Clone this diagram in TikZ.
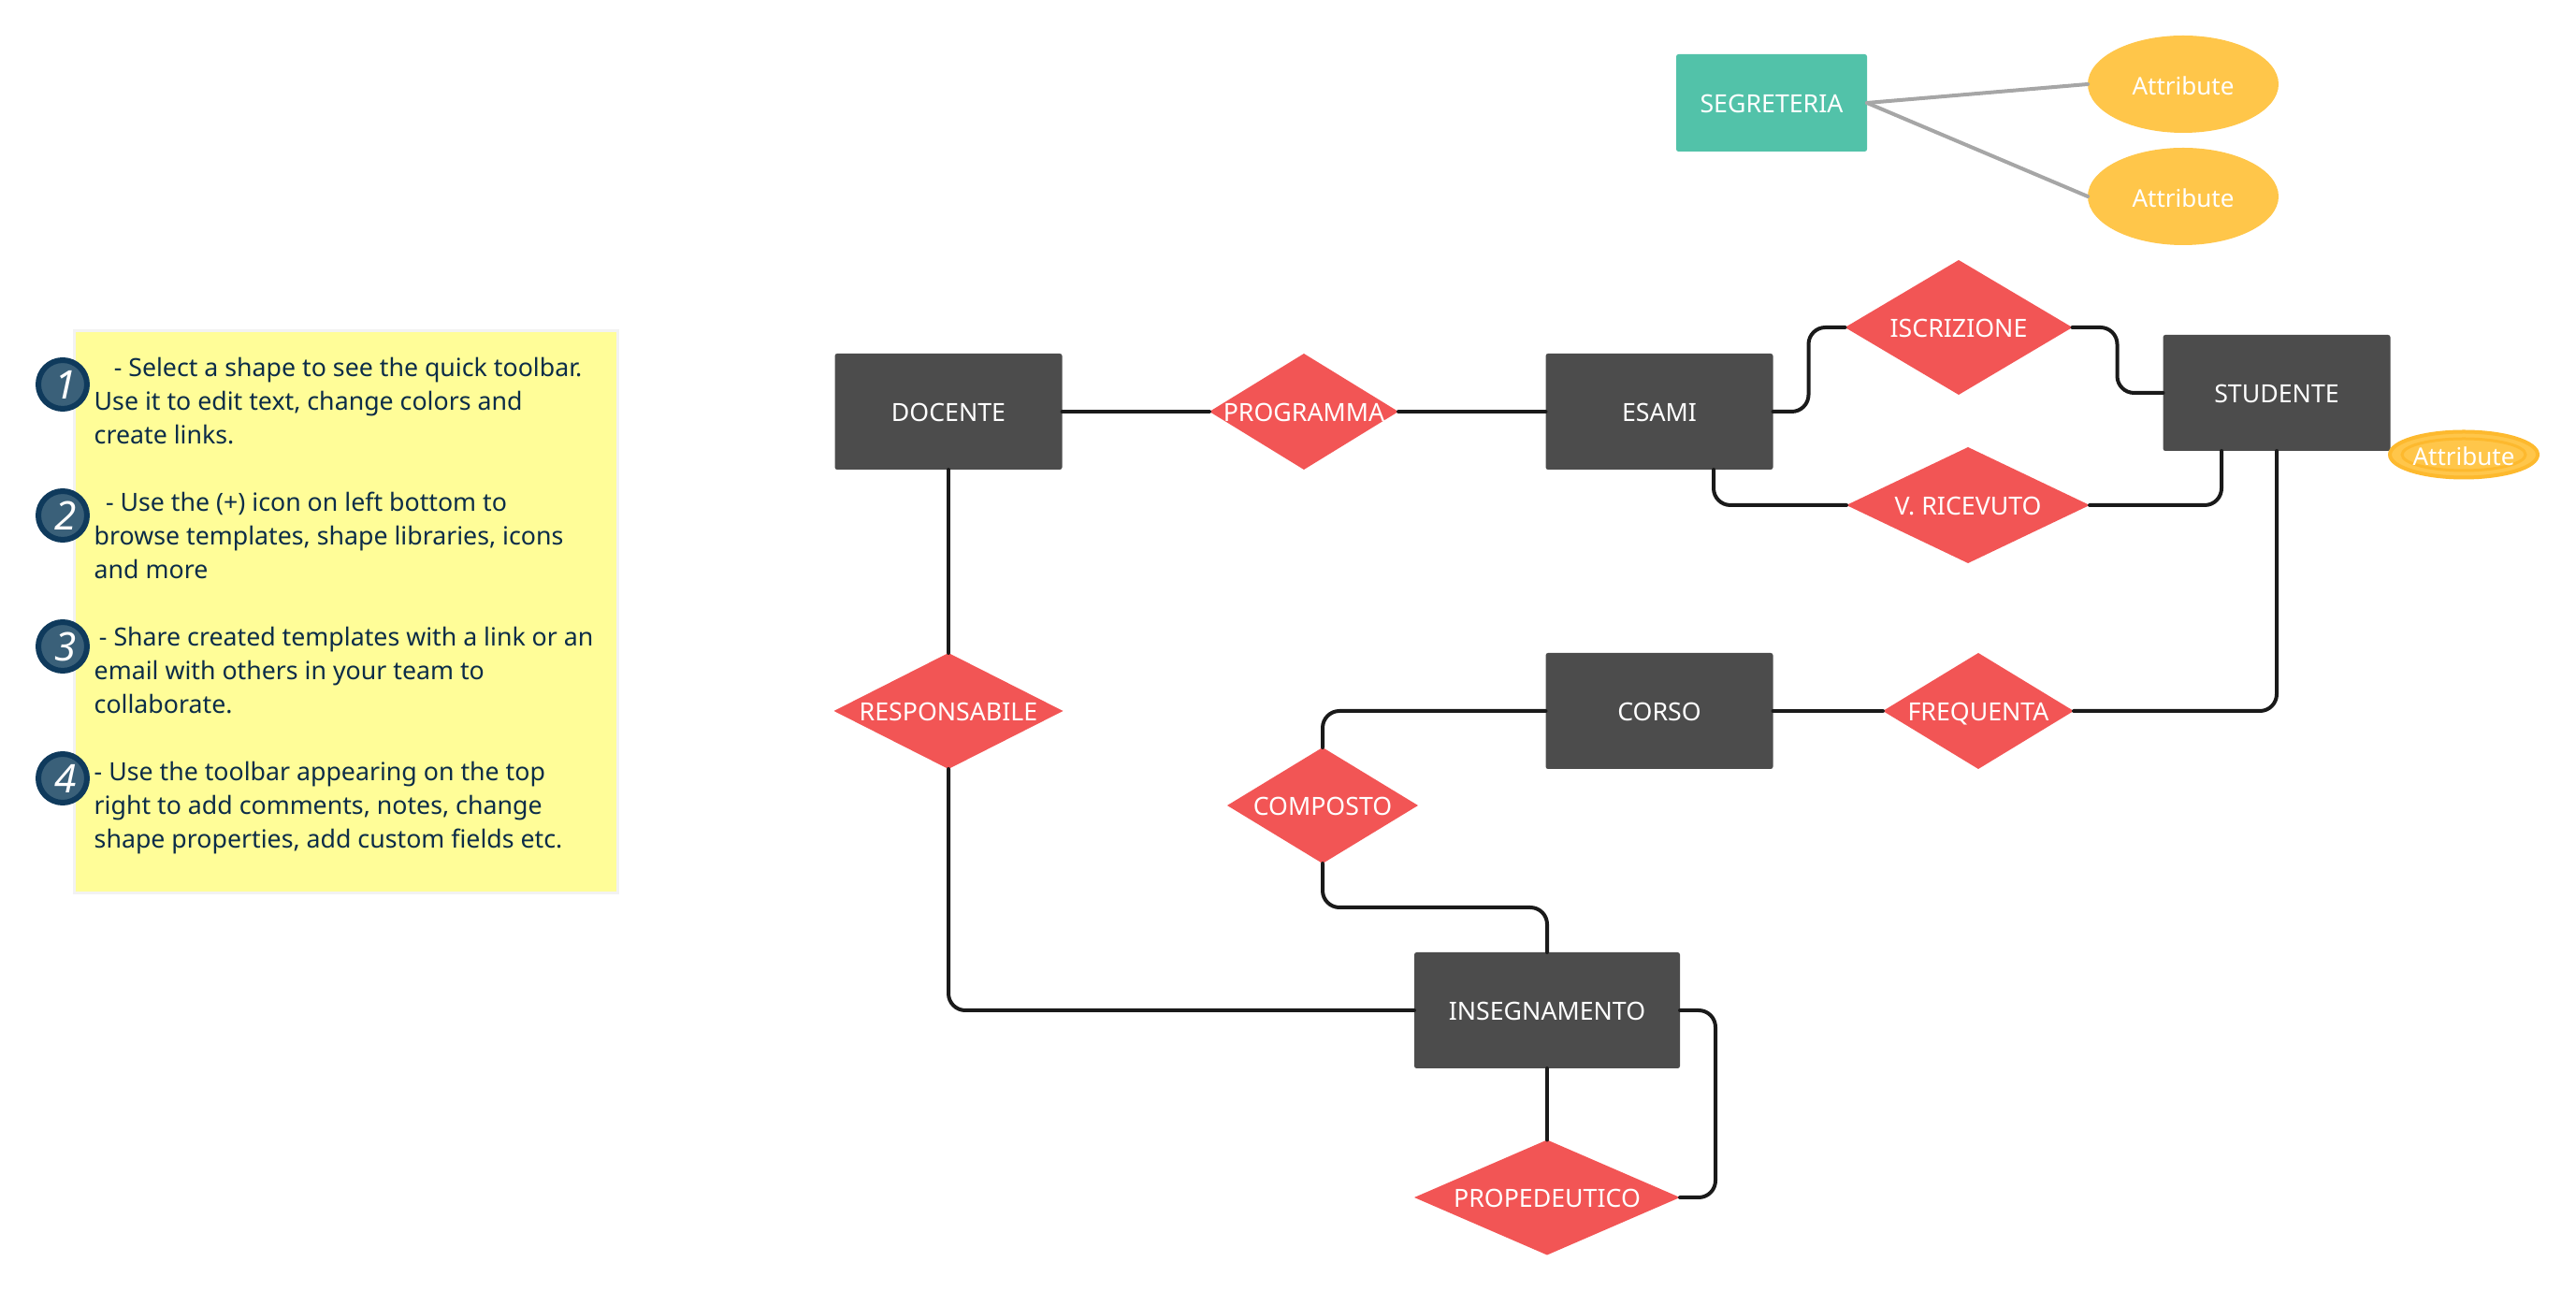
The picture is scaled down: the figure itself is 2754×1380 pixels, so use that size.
\documentclass[tikz,border=0pt]{standalone}
\usepackage{fontspec}
\setmainfont{Noto Sans}
\usetikzlibrary{shapes.geometric,shadows}
\definecolor{boxgray}{HTML}{4C4C4C}
\definecolor{relred}{HTML}{F25555}
\definecolor{attryellow}{HTML}{FFC64A}
\definecolor{attredge}{HTML}{FDB92E}
\definecolor{segteal}{HTML}{52C2A9}
\definecolor{notecol}{HTML}{FFFD98}
\definecolor{inktext}{HTML}{0B2C48}
\definecolor{stepfill}{HTML}{3A6079}
\definecolor{stepedge}{HTML}{0F3A5C}
\definecolor{linkblack}{HTML}{1A1A1A}
\newcommand{\lbl}[1]{\makebox[0pt]{#1}}
\tikzset{
  ent/.style={rectangle,rounded corners=2.5pt*0.28,fill=boxgray,text=white,inner sep=0pt,outer sep=0pt,
    minimum width=243*0.01cm,minimum height=124*0.01cm,text height=6pt,text depth=0pt,
    font=\fontsize{7.6}{9}\selectfont},
  rel/.style={diamond,fill=relred,text=white,inner sep=0pt,outer sep=0pt,text height=6pt,text depth=0pt,
    font=\fontsize{7.6}{9}\selectfont},
  attr/.style={ellipse,fill=attryellow,text=white,inner sep=0pt,outer sep=0pt,text height=6.6pt,text depth=0pt,
    font=\fontsize{7.4}{9}\selectfont},
  link/.style={draw=linkblack,line width=4*0.01cm,line cap=round,rounded corners=18*0.01cm},
  graylink/.style={draw=black!35,line width=4*0.01cm,line cap=round},
  para/.style={anchor=north west,inner sep=0pt,text=inktext,align=left,
    font=\fontsize{7.6}{10.24}\selectfont},
  stepdot/.style={circle,draw=stepedge,fill=stepfill,line width=6*0.01cm,minimum size=52*0.01cm,
    inner sep=0pt,text=white,font=\fontsize{12}{13}\selectfont\itshape}
}
\begin{document}
\begin{tikzpicture}[x=0.01cm,y=-0.01cm]
	\useasboundingbox (0,0) rectangle (2754,1380);
	% note on the left
	\node (note) at (370,654) [rectangle,fill=notecol,minimum width=578*0.01cm,minimum height=598*0.01cm,
	  drop shadow={shadow xshift=0pt,shadow yshift=0pt,shadow scale=1.01,opacity=.05,fill=black}] {};
	\foreach \n/\y in {1/411,2/551,3/691,4/832} {
	  \node (step\n) at (67,\y) [stepdot] {\hspace*{1.5pt}\n};
	}
	\node (para1) at (100,381) [para] {\hspace*{6pt}- Select a shape to see the quick toolbar.\\Use it to edit text, change colors and\\create links.};
	\node (para2) at (100,525) [para] {\hspace*{3.5pt}- Use the (+) icon on left bottom to\\browse templates, shape libraries, icons\\and more};
	\node (para3) at (100,669) [para] {\hspace*{1.5pt}- Share created templates with a link or an\\email with others in your team to\\collaborate.};
	\node (para4) at (100,813) [para] {- Use the toolbar appearing on the top\\right to add comments, notes, change\\shape properties, add custom fields etc.};
	% entities
	\node (docente) at (1014,440) [ent] {DOCENTE};
	\node (esami) at (1774,440) [ent] {ESAMI};
	\node (studente) at (2434,420) [ent] {STUDENTE};
	\node (corso) at (1774,760) [ent] {CORSO};
	\node (insegn) at (1654,1080) [ent,minimum width=284*0.01cm] {INSEGNAMENTO};
	\node (segret) at (1894,110) [ent,fill=segteal,minimum width=204*0.01cm,minimum height=104*0.01cm] {SEGRETERIA};
	% relations
	\node (programma) at (1394,440) [rel,minimum width=202*0.01cm,minimum height=124*0.01cm] {\lbl{PROGRAMMA}};
	\node (iscrizione) at (2094,350) [rel,minimum width=243*0.01cm,minimum height=144*0.01cm] {\lbl{ISCRIZIONE}};
	\node (ricevuto) at (2104,540) [rel,minimum width=260*0.01cm,minimum height=124*0.01cm] {\lbl{V. RICEVUTO}};
	\node (responsabile) at (1014,760) [rel,minimum width=245*0.01cm,minimum height=124*0.01cm] {\lbl{RESPONSABILE}};
	\node (frequenta) at (2115,760) [rel,minimum width=204*0.01cm,minimum height=124*0.01cm] {\lbl{FREQUENTA}};
	\node (composto) at (1414,861) [rel,minimum width=204*0.01cm,minimum height=124*0.01cm] {\lbl{COMPOSTO}};
	\node (propedeutico) at (1654,1280) [rel,minimum width=284*0.01cm,minimum height=123*0.01cm] {\lbl{PROPEDEUTICO}};
	% attributes
	\node (attr1) at (2334,90) [attr,minimum width=204*0.01cm,minimum height=104*0.01cm] {Attribute};
	\node (attr2) at (2334,210) [attr,minimum width=204*0.01cm,minimum height=104*0.01cm] {Attribute};
	\node (attr3) at (2634,486) [attr,draw=attredge,line width=4*0.01cm,minimum width=158*0.01cm,minimum height=49*0.01cm] {};
	\draw [attredge,line width=3*0.01cm] (attr3.center) ellipse [x radius=66,y radius=17];
	\node (attr3text) at (attr3.center) [text=white,inner sep=0pt,text height=6.6pt,text depth=0pt,font=\fontsize{7.4}{9}\selectfont] {Attribute};
	% connectors
	\draw [graylink] (segret.east) -- (attr1.west);
	\draw [graylink] (segret.east) -- (attr2.west);
	\draw [link] (docente.east) -- (programma.west);
	\draw [link] (programma.east) -- (esami.west);
	\draw [link] (esami.east) -- ++(38,0) |- (iscrizione.west);
	\draw [link] (iscrizione.east) -- ++(48,0) |- (studente.west);
	\draw [link] ([xshift=58*0.01cm]esami.south) |- (ricevuto.west);
	\draw [link] (ricevuto.east) -| ([xshift=-59*0.01cm]studente.south);
	\draw [link] (studente.south) |- (frequenta.east);
	\draw [link] (frequenta.west) -- (corso.east);
	\draw [link] (corso.west) -| (composto.north);
	\draw [link] (composto.south) -- ++(0,47) -| (insegn.north);
	\draw [link] (docente.south) -- (responsabile.north);
	\draw [link] (responsabile.south) |- (insegn.west);
	\draw [link] (insegn.south) -- (propedeutico.north);
	\draw [link] (insegn.east) -- ++(38,0) |- (propedeutico.east);
\end{tikzpicture}
\end{document}
